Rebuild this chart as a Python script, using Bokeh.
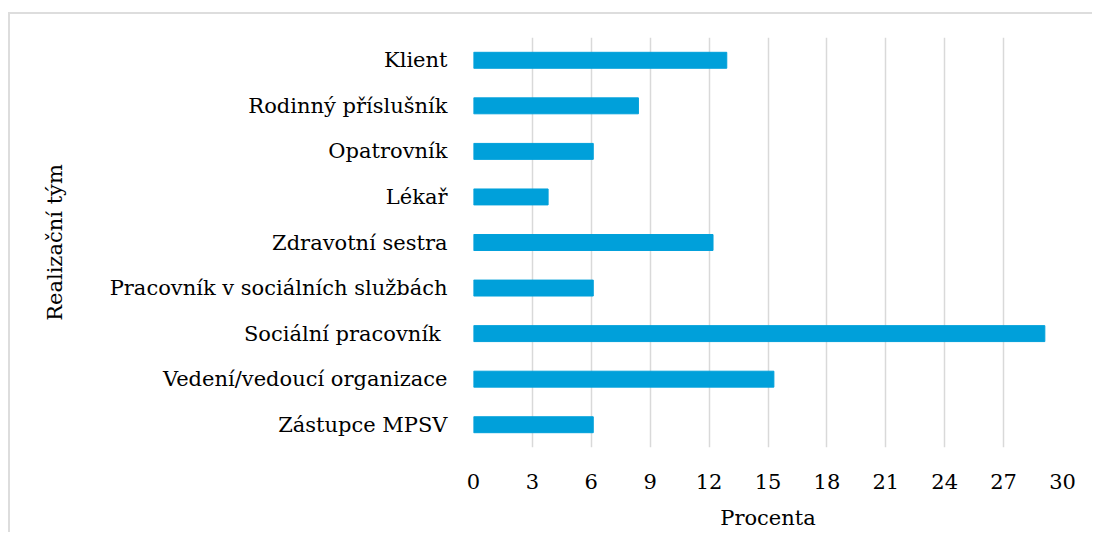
from bokeh.plotting import figure
from bokeh.models import FactorRange, Range1d, FixedTicker
from bokeh.embed import file_html
from bokeh.resources import INLINE

categories = [
    "Klient",
    "Rodinný příslušník",
    "Opatrovník",
    "Lékař",
    "Zdravotní sestra",
    "Pracovník v sociálních službách",
    "Sociální pracovník ",
    "Vedení/vedoucí organizace",
    "Zástupce MPSV",
]
values = [12.9, 8.4, 6.1, 3.8, 12.2, 6.1, 29.1, 15.3, 6.1]
x_ticks = [0, 3, 6, 9, 12, 15, 18, 21, 24, 27, 30]

FONT = "DejaVu Serif"
FS = "21px"

p = figure(
    width=1084, height=520,
    y_range=FactorRange(*reversed(categories), range_padding=0),
    x_range=Range1d(0, 30),
    output_backend="svg", toolbar_location=None,
    min_border_left=463, min_border_right=32,
    min_border_top=23, min_border_bottom=87,
)
p.styles = {"border-top": "2px solid #dddddd", "border-left": "2px solid #dddddd",
            "margin-top": "12px", "margin-left": "8px"}

p.hbar(y=categories, right=values, left=0, height=0.35,
       fill_color="#00a0da", line_color="#00a0da")

p.outline_line_color = None
p.ygrid.grid_line_color = None
p.xgrid.grid_line_color = "#d9d9d9"
p.xgrid.grid_line_width = 1.5
p.xaxis.ticker = FixedTicker(ticks=x_ticks)

for ax in (p.xaxis[0], p.yaxis[0]):
    ax.axis_line_color = None
    ax.major_tick_line_color = None
    ax.minor_tick_line_color = None
    ax.major_label_text_font = FONT
    ax.major_label_text_font_size = FS
    ax.major_label_text_color = "black"
    ax.axis_label_text_font = FONT
    ax.axis_label_text_font_size = FS
    ax.axis_label_text_font_style = "normal"
    ax.axis_label_text_color = "black"

p.xaxis.axis_label = "Procenta"
p.yaxis.axis_label = "Realizační tým"
p.xaxis.major_label_standoff = 20
p.xaxis.axis_label_standoff = 14
p.yaxis.major_label_standoff = 20
p.yaxis.axis_label_standoff = 40

open("out.html", "w").write(file_html(p, INLINE))
